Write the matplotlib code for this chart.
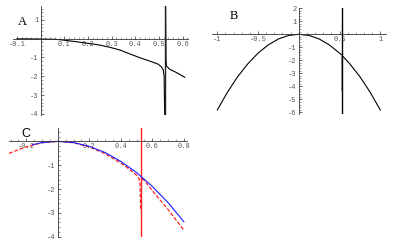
import matplotlib
matplotlib.use("Agg")
import matplotlib.pyplot as plt
from matplotlib.ticker import FixedLocator, MultipleLocator

# ---------------- data ----------------
# Panel A
a_x_left = [-0.1, -0.05, 0.0, 0.05, 0.08, 0.15, 0.22, 0.25, 0.29, 0.335, 0.377, 0.419,
            0.461, 0.496, 0.51, 0.518, 0.522, 0.525]
a_y_left = [-0.01, -0.01, -0.02, -0.03, -0.05, -0.16, -0.28, -0.34, -0.45, -0.6, -0.81, -1.01,
            -1.19, -1.35, -1.49, -1.65, -2.0, -4.5]
a_x_right = [0.528, 0.530, 0.532, 0.546, 0.574, 0.609]
a_y_right = [2.0, -1.1, -1.45, -1.63, -1.8, -2.05]
pole_a = 0.527
a_xticks = [-0.1, 0.1, 0.2, 0.3, 0.4, 0.5, 0.6]
a_yticks = [1, -1, -2, -3, -4]

# Panel B
b_x = [-1, -0.875, -0.75, -0.625, -0.5, -0.375, -0.25, -0.125, 0, 0.125, 0.25, 0.375,
       0.5, 0.527, 0.625, 0.75, 0.875, 1]
b_y = [-5.82, -4.45, -3.26, -2.27, -1.45, -0.82, -0.36, -0.09, 0, -0.09, -0.36, -0.82,
       -1.45, -1.6, -2.27, -3.26, -4.45, -5.82]
pole_b = 0.527
b_spike_x = [0.522, 0.522]
b_spike_y = [-1.58, -4.3]
b_xticks = [-1, -0.5, 0.5, 1]
b_yticks = [2, 1, -1, -2, -3, -4, -5, -6]

# Panel C
c_blue_x = [-0.16, -0.1, 0.0, 0.1, 0.2, 0.3, 0.4, 0.5, 0.6, 0.7, 0.8]
c_blue_y = [-0.14, -0.05, 0.0, -0.05, -0.21, -0.47, -0.84, -1.31, -1.89, -2.57, -3.37]
c_red_x_left = [-0.31, -0.2, -0.1, 0.0, 0.1, 0.2, 0.3, 0.4, 0.45, 0.5, 0.515, 0.522, 0.526]
c_red_y_left = [-0.5, -0.23, -0.06, 0.0, -0.06, -0.23, -0.52, -0.91, -1.15, -1.42, -1.55, -1.8, -2.9]
c_red_x_right = [0.534, 0.55, 0.6, 0.7, 0.8]
c_red_y_right = [-1.55, -1.65, -2.07, -2.86, -3.72]
pole_c = 0.53
c_xticks = [-0.2, 0.2, 0.4, 0.6, 0.8]
c_yticks = [-1, -2, -3, -4]

# ---------------- figure ----------------
W, H = 400, 247
fig = plt.figure(figsize=(W / 100, H / 100), dpi=100)


def px_axes(left, top, right, bottom):
    return fig.add_axes([left / W, 1 - bottom / H, (right - left) / W, (bottom - top) / H])


tick_font = dict(family="Liberation Mono", size=5, color="#555555")


def style(ax, xticks, yticks, xminor, yminor, xfmt, yfmt):
    for s in ("top", "right"):
        ax.spines[s].set_visible(False)
    for s in ("left", "bottom"):
        ax.spines[s].set_position(("data", 0))
        ax.spines[s].set_linewidth(0.6)
        ax.spines[s].set_color("#333333")
    ax.patch.set_alpha(0)
    ax.xaxis.set_major_locator(FixedLocator(xticks))
    ax.yaxis.set_major_locator(FixedLocator(yticks))
    ax.xaxis.set_minor_locator(MultipleLocator(xminor))
    ax.yaxis.set_minor_locator(MultipleLocator(yminor))
    ax.set_xticklabels([xfmt(v) for v in xticks], fontdict=tick_font)
    ax.set_yticklabels([yfmt(v) for v in yticks], fontdict=tick_font)
    ax.tick_params(which="major", direction="in", length=2.5, width=0.5, pad=1.5, colors="#333333",
                   labelcolor="#555555")
    ax.tick_params(which="minor", direction="in", length=1.3, width=0.4, colors="#555555")


# Panel A
axA = px_axes(13, 6, 188, 115)
axA.set_xlim(-0.117, 0.623)
axA.set_ylim(-4.06, 1.74)
axA.plot(a_x_left, a_y_left, color="black", lw=0.8)
axA.plot(a_x_right, a_y_right, color="black", lw=0.8)
axA.axvline(pole_a, color="#222222", lw=1.0)
style(axA, a_xticks, a_yticks, 0.02, 0.2, lambda v: f"{v:g}", lambda v: f"{v:g}")

# Panel B
axB = px_axes(212, 8, 386, 114)
axB.set_xlim(-1.065, 1.07)
axB.set_ylim(-6.13, 2.02)
axB.plot(b_x, b_y, color="black", lw=0.8)
axB.plot(b_spike_x, b_spike_y, color="#999999", lw=0.6)
axB.axvline(pole_b, color="black", lw=1.0)
style(axB, b_xticks, b_yticks, 0.1, 0.2, lambda v: f"{v:g}", lambda v: f"{v:g}")

# Panel C
axC = px_axes(9, 128, 187, 237)
axC.set_xlim(-0.31, 0.82)
axC.set_ylim(-4.01, 0.56)
axC.axvline(pole_c, color="#ff2020", lw=1.0)
axC.plot(c_red_x_left, c_red_y_left, color="#ff2020", lw=0.9, dashes=(3, 1.5))
axC.plot(c_red_x_right, c_red_y_right, color="#ff2020", lw=0.9, dashes=(3, 1.5))
axC.plot(c_blue_x, c_blue_y, color="#1a1aff", lw=0.8)
style(axC, c_xticks, c_yticks, 0.05, 0.2, lambda v: f"{v:g}", lambda v: f"{v:g}")

# Panel letters
fig.text(22.7 / W, 1 - 21.7 / H, "A", family="Liberation Serif", size=9, ha="center", va="center")
fig.text(234 / W, 1 - 16 / H, "B", family="Liberation Serif", size=9, ha="center", va="center")
fig.text(25.5 / W, 1 - 133.5 / H, "C", family="Liberation Sans", size=9, ha="center", va="center")

fig.savefig("out.png", dpi=100)
